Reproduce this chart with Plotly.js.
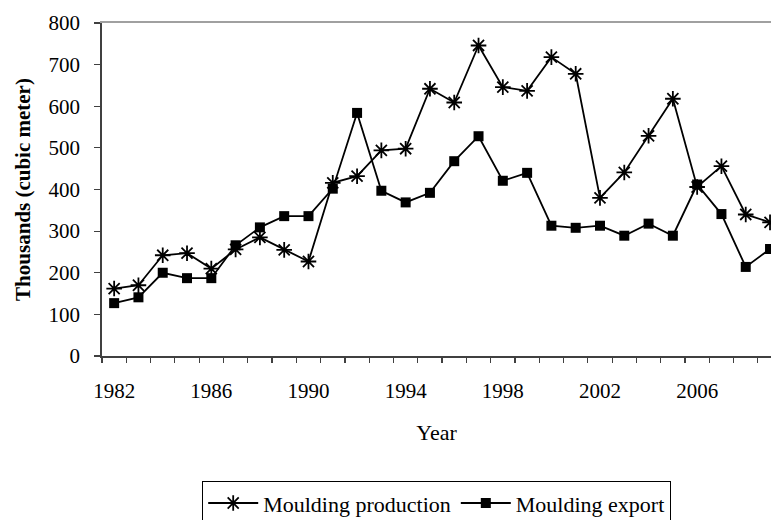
<!DOCTYPE html>
<html>
<head>
<meta charset="utf-8">
<script src="https://cdn.plot.ly/plotly-3.0.1.min.js"></script>
<style>html,body{margin:0;padding:0;background:#fff;}#chart{width:771px;height:520px;}</style>
</head>
<body>
<div id="chart"></div>
<script>
const years = [1982,1983,1984,1985,1986,1987,1988,1989,1990,1991,1992,1993,1994,1995,1996,1997,1998,1999,2000,2001,2002,2003,2004,2005,2006,2007,2008,2009];
const production = [162,170,242,247,210,256,285,255,227,416,432,494,498,642,609,746,646,637,718,678,380,441,529,618,406,456,340,321];
const exportVals = [127,141,200,187,187,266,309,336,336,402,584,397,369,392,468,528,421,440,313,308,313,289,318,289,412,341,214,257];
const xTickLabels = [1982,1986,1990,1994,1998,2002,2006];
const yTicks = [0,100,200,300,400,500,600,700,800];

const serif = '"Liberation Serif", "Times New Roman", serif';

const traces = [
  {
    x: years, y: production, name: 'Moulding production', type: 'scatter', mode: 'lines+markers',
    line: {color: '#000', width: 1.8},
    marker: {symbol: 'asterisk-open', size: 13, color: '#000', line: {color: '#000', width: 1.8}},
    cliponaxis: false
  },
  {
    x: years, y: exportVals, name: 'Moulding export', type: 'scatter', mode: 'lines+markers',
    line: {color: '#000', width: 1.8},
    marker: {symbol: 'square', size: 10, color: '#000', line: {width: 0}},
    cliponaxis: false
  },
  {
    x: [], y: [], xaxis: 'x2', yaxis: 'y', showlegend: false, hoverinfo: 'skip', type: 'scatter'
  }
];

const layout = {
  width: 771, height: 520,
  margin: {l: 102, r: 0, t: 23, b: 164},
  paper_bgcolor: '#fff', plot_bgcolor: '#fff',
  font: {family: serif, size: 21, color: '#000'},
  showlegend: true,
  xaxis: {
    range: [1981.5, 2009.04],
    tickvals: xTickLabels, ticktext: xTickLabels.map(String),
    ticks: '', showgrid: false, zeroline: false,
    showline: true, linecolor: '#404040', linewidth: 1.8,
    ticklabelstandoff: 15,
    tickfont: {family: serif, size: 21, color: '#000'},
    minor: {tick0: 1981.5, dtick: 1, ticks: 'outside', ticklen: 5, tickcolor: '#404040', tickwidth: 1.2, showgrid: false},
    title: {text: 'Year', font: {family: serif, size: 22, color: '#000'}, standoff: 22}
  },
  xaxis2: {
    overlaying: 'x', side: 'top', range: [1981.5, 2009.04],
    showline: true, linecolor: '#a0a0a0', linewidth: 1.8,
    showticklabels: false, ticks: '', showgrid: false, zeroline: false
  },
  yaxis: {
    range: [0, 800], tickvals: yTicks, ticktext: yTicks.map(String),
    ticks: 'outside', ticklen: 6, tickcolor: '#404040', tickwidth: 1.2,
    showline: true, linecolor: '#404040', linewidth: 1.8,
    showgrid: false, zeroline: false,
    ticklabelstandoff: 10,
    tickfont: {family: serif, size: 21, color: '#000'},
    title: {text: 'Thousands (cubic meter)', font: {family: serif, size: 21, color: '#000', weight: 'bold'}, standoff: 12}
  },
  legend: {
    orientation: 'h', xref: 'container', yref: 'container',
    x: 202/771, xanchor: 'left', y: 1 - 481/520, yanchor: 'top',
    bordercolor: '#000', borderwidth: 1.2, bgcolor: '#fff',
    font: {family: serif, size: 22, color: '#000'},
    itemwidth: 50
  }
};

Plotly.newPlot('chart', traces, layout, {staticPlot: true, displayModeBar: false});
</script>
</body>
</html>
